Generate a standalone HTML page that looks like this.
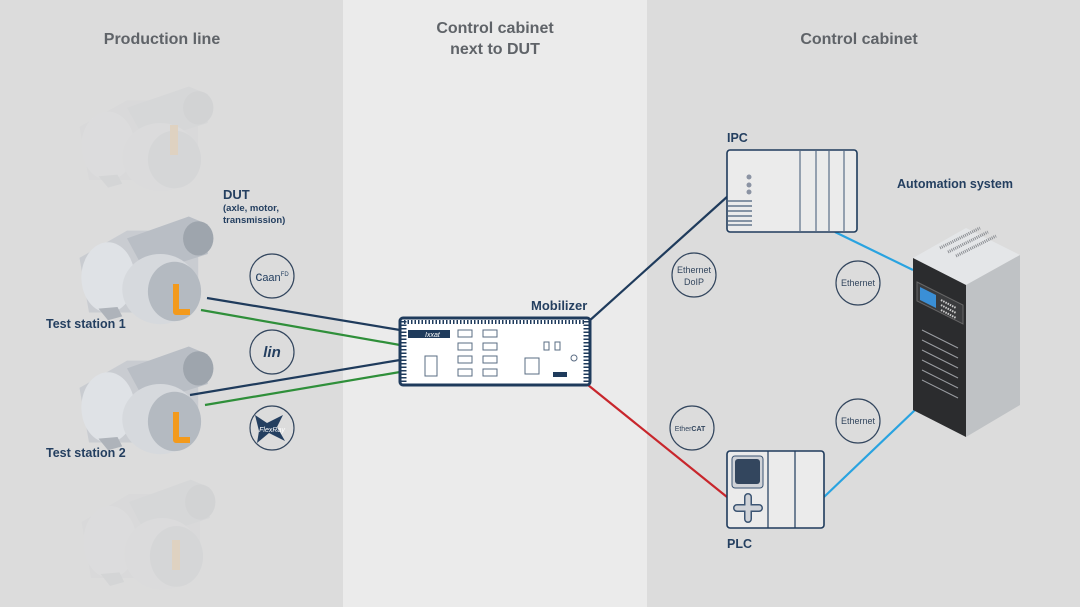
<!DOCTYPE html><html><head><style>body{margin:0}svg{display:block}text{font-family:"Liberation Sans",sans-serif}</style></head><body>
<svg width="1080" height="607" viewBox="0 0 1080 607" xmlns="http://www.w3.org/2000/svg">
<rect width="1080" height="607" fill="#dcdcdc"/>
<rect x="343" width="304" height="607" fill="#ebebeb"/>
<g font-weight="bold" fill="#5f6368" font-size="16" text-anchor="middle">
<text x="162" y="44">Production line</text>
<text x="495" y="33">Control cabinet</text>
<text x="495" y="54">next to DUT</text>
<text x="859" y="44">Control cabinet</text>
</g>
<defs>
<g id="motor">
<path d="M10 55 L60 20 L120 20 L135 35 L135 95 L80 125 L20 125 Z" fill="#c9ccd1"/>
<ellipse cx="40" cy="80" rx="28" ry="45" fill="#dfe2e6"/>
<path d="M60 30 L125 2 L145 12 L145 50 L80 75 Z" fill="#b9bec5"/>
<ellipse cx="135" cy="30" rx="16" ry="22" fill="#9ea5ad"/>
<ellipse cx="95" cy="95" rx="40" ry="45" fill="#d6d9dd"/>
<ellipse cx="110" cy="98" rx="28" ry="38" fill="#b4bac1"/>
<path d="M30 120 l10 15 l15 -5 l-5 -12 z" fill="#aeb3ba"/>
</g>
</defs>
<g opacity="0.15"><use href="#motor" transform="translate(70,85) scale(0.95,0.76)"/><rect x="170" y="125" width="8" height="30" fill="#f0a030"/></g>
<g opacity="0.15"><use href="#motor" transform="translate(72,478) scale(0.95,0.8)"/><rect x="172" y="540" width="8" height="30" fill="#f0a030"/></g>
<use href="#motor" transform="translate(70,215) scale(0.95,0.78)"/>
<path d="M176 284 v28 h14" stroke="#f39a1c" stroke-width="6" fill="none" stroke-linejoin="round"/>
<use href="#motor" transform="translate(70,345) scale(0.95,0.78)"/>
<path d="M176 412 v28 h14" stroke="#f39a1c" stroke-width="6" fill="none" stroke-linejoin="round"/>
<g fill="#243f60" font-weight="bold">
<text x="223" y="199" font-size="13">DUT</text>
<text x="223" y="211" font-size="9.5">(axle, motor,</text>
<text x="223" y="223" font-size="9.5">transmission)</text>
<text x="46" y="328" font-size="12.5">Test station 1</text>
<text x="46" y="457" font-size="12.5">Test station 2</text>
<text x="531" y="310" font-size="13">Mobilizer</text>
<text x="727" y="142" font-size="12.5">IPC</text>
<text x="897" y="188" font-size="12.5">Automation system</text>
<text x="727" y="548" font-size="12.5">PLC</text>
</g>
<g stroke-width="2.2" fill="none">
<path d="M207 298 L400 330" stroke="#1f3b5c"/>
<path d="M201 310 L400 345" stroke="#2f8f3a"/>
<path d="M190 395 L400 360" stroke="#1f3b5c"/>
<path d="M205 405 L400 372" stroke="#2f8f3a"/>
<path d="M588 322 L728 196" stroke="#1f3b5c"/>
<path d="M588 385 L727 497" stroke="#c8262c"/>
<path d="M835 232 L913 270" stroke="#29a3e0"/>
<path d="M824 497 L915 410" stroke="#29a3e0"/>
</g>
<g fill="none" stroke="#33465e" stroke-width="1.2">
<circle cx="272" cy="276" r="22"/><circle cx="272" cy="352" r="22"/><circle cx="272" cy="428" r="22"/>
<circle cx="694" cy="275" r="22"/><circle cx="858" cy="283" r="22"/><circle cx="692" cy="428" r="22"/><circle cx="858" cy="421" r="22"/>
</g>
<text x="272" y="281" font-size="14" text-anchor="middle" fill="#243f60">c<tspan font-size="11">aan</tspan><tspan font-size="6" dy="-5">FD</tspan></text>
<text x="272" y="357" font-size="15" font-style="italic" font-weight="bold" font-family="Liberation Serif" text-anchor="middle" fill="#243f60">lin</text>
<path d="M255 415 l12 8 l16 -8 l-6 12 l8 14 l-16 -8 l-12 10 l2 -12 z" fill="#243f60"/>
<text x="272" y="432" font-size="7" text-anchor="middle" fill="#fff" font-style="italic">FlexRay</text>
<g font-size="9" fill="#33465e" text-anchor="middle">
<text x="694" y="273">Ethernet</text><text x="694" y="285">DoIP</text>
<text x="858" y="286">Ethernet</text><text x="858" y="424">Ethernet</text>
<text x="690" y="431" font-size="7">Ether<tspan font-weight="bold">CAT</tspan></text>
</g>
<rect x="400" y="318" width="190" height="67" rx="3" fill="#fff" stroke="#1f3b5c" stroke-width="3"/>
<path d="M404 322 H586" stroke="#1f3b5c" stroke-width="4" stroke-dasharray="1.5 2"/>
<path d="M404 321 V382 M586 321 V382" stroke="#1f3b5c" stroke-width="5" stroke-dasharray="1.5 2"/>
<rect x="408" y="330" width="42" height="8" fill="#1f3b5c"/>
<text x="425" y="337" font-size="7" fill="#fff" font-style="italic">Ixxat</text>
<g fill="none" stroke="#5a6c83" stroke-width="1">
<rect x="458" y="330" width="14" height="7"/><rect x="483" y="330" width="14" height="7"/>
<rect x="458" y="343" width="14" height="7"/><rect x="483" y="343" width="14" height="7"/>
<rect x="458" y="356" width="14" height="7"/><rect x="483" y="356" width="14" height="7"/>
<rect x="458" y="369" width="14" height="7"/><rect x="483" y="369" width="14" height="7"/>
<rect x="425" y="356" width="12" height="20"/><rect x="525" y="358" width="14" height="16"/>
<rect x="544" y="342" width="5" height="8"/><rect x="555" y="342" width="5" height="8"/>
<circle cx="574" cy="358" r="3"/>
</g>
<rect x="553" y="372" width="14" height="5" fill="#1f3b5c"/>
<rect x="727" y="150" width="130" height="82" rx="3" fill="#ebebeb" stroke="#1f3b5c" stroke-width="1.6"/>
<path d="M800 151 V231 M816 151 V231 M829 151 V231 M844 151 V231" stroke="#3c5573" stroke-width="1"/>
<g fill="#8b93a3"><circle cx="749" cy="177" r="2.5"/><circle cx="749" cy="185" r="2.5"/><circle cx="749" cy="192" r="2.5"/></g>
<path d="M728 201 h24 M728 206 h24 M728 211 h24 M728 216 h24 M728 221 h24 M728 225 h24" stroke="#1f3b5c" stroke-width="1"/>
<rect x="727" y="451" width="97" height="77" rx="3" fill="#ebebeb" stroke="#1f3b5c" stroke-width="1.6"/>
<path d="M768 451 V528 M795 451 V528" stroke="#1f3b5c" stroke-width="1.2"/>
<rect x="732" y="456" width="31" height="32" rx="3" fill="#d0d3d8" stroke="#3c5573"/>
<rect x="735" y="459" width="25" height="25" rx="3" fill="#33465e"/>
<path d="M748 497 v22 M737 508 h22" stroke="#3c5573" stroke-width="8" stroke-linecap="round"/>
<path d="M748 497 v22 M737 508 h22" stroke="#d0d3d8" stroke-width="5" stroke-linecap="round"/>
<polygon points="913,258 966,228 1020,255 966,285" fill="#e4e6e8"/>
<polygon points="966,285 1020,255 1020,405 966,437" fill="#bfc2c5"/>
<polygon points="913,258 966,285 966,437 913,410" fill="#2b2c2e"/>
<path d="M940 248 l40 -20 M948 252 l40 -20 M956 256 l40 -20" stroke="#8a8d92" stroke-width="3" stroke-dasharray="1 1"/>
<polygon points="917,282 963,305 963,324 917,301" fill="#3a3b3d" stroke="#666"/>
<polygon points="920,287 936,295 936,308 920,300" fill="#3a8fd6"/>
<path d="M941 300 l15 8 M941 305 l15 8 M941 310 l15 8" stroke="#ccc" stroke-width="2" stroke-dasharray="1.5 1"/>
<path d="M922 330 l36 18 M922 340 l36 18 M922 350 l36 18 M922 360 l36 18 M922 370 l36 18 M922 380 l36 18" stroke="#9a9da2" stroke-width="1"/>
</svg>
</body></html>
